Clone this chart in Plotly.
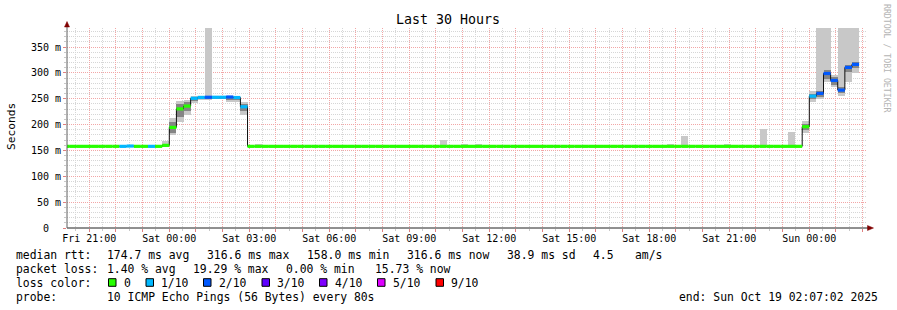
import plotly.graph_objects as go
import pandas as pd

# ---------------- data (one value per 16-minute step, starting Fri 2025-10-17 20:00) -------------
step_start = "2025-10-17 20:00:00"
step_minutes = 16

median_ms = [
    158.0, 158.0, 158.0, 158.0, 158.0, 158.0, 158.0, 158.0, 158.0, 158.6, 158.0, 158.0, 158.0, 158.0, 159.9, 194.7,
    230.5, 235.9, 251.0, 252.7, 253.0, 253.0, 253.0, 253.5, 252.5, 234.6, 158.0, 158.0, 158.0, 158.0, 158.0, 158.0,
    158.0, 158.0, 158.0, 158.0, 158.0, 158.0, 158.0, 158.0, 158.0, 158.0, 158.0, 158.0, 158.0, 158.0, 158.0, 158.0,
    158.0, 158.0, 158.0, 158.0, 158.0, 158.0, 158.0, 158.0, 158.0, 158.0, 158.0, 158.0, 158.0, 158.0, 158.0, 158.0,
    158.0, 158.0, 158.0, 158.0, 158.0, 158.0, 158.0, 158.0, 158.0, 158.0, 158.0, 158.0, 158.0, 158.0, 158.0, 158.0,
    158.0, 158.0, 158.0, 158.0, 158.0, 158.0, 158.0, 158.0, 158.0, 158.0, 158.0, 158.0, 158.0, 158.0, 158.0, 158.0,
    158.0, 158.0, 158.0, 158.0, 158.0, 158.0, 158.0, 158.0, 196.0, 255.2, 260.4, 299.0, 285.5, 266.8, 310.7, 316.6,
]

loss_tenths = [
    0, 0, 0, 0, 0, 0, 0, 0, 1, 1, 0, 0, 1, 0, 0, 0,
    0, 0, 1, 1, 2, 1, 1, 2, 1, 1, 0, 0, 0, 0, 0, 0,
    0, 0, 0, 0, 0, 0, 0, 0, 0, 0, 0, 0, 0, 0, 0, 0,
    0, 0, 0, 0, 0, 0, 0, 0, 0, 0, 0, 0, 0, 0, 0, 0,
    0, 0, 0, 0, 0, 0, 0, 0, 0, 0, 0, 0, 0, 0, 0, 0,
    0, 0, 0, 0, 0, 0, 0, 0, 0, 0, 0, 0, 0, 0, 0, 0,
    0, 0, 0, 0, 0, 0, 0, 0, 0, 1, 2, 2, 2, 2, 2, 2,
]

smoke_lo = [
    158.0, 158.0, 158.0, 158.0, 158.0, 158.0, 158.0, 158.0, 158.0, 158.0, 158.0, 158.0, 158.0, 158.0, 158.0, 180.0,
    205.6, 218.5, 241.0, 247.5, 247.5, 250.0, 250.0, 243.5, 243.5, 218.5, 158.0, 158.0, 158.0, 158.0, 158.0, 158.0,
    158.0, 158.0, 158.0, 158.0, 158.0, 158.0, 158.0, 158.0, 158.0, 158.0, 158.0, 158.0, 158.0, 158.0, 158.0, 158.0,
    158.0, 158.0, 158.0, 158.0, 158.0, 158.0, 158.0, 158.0, 158.0, 158.0, 158.0, 158.0, 158.0, 158.0, 158.0, 158.0,
    158.0, 158.0, 158.0, 158.0, 158.0, 158.0, 158.0, 158.0, 158.0, 158.0, 158.0, 158.0, 158.0, 158.0, 158.0, 158.0,
    158.0, 158.0, 158.0, 158.0, 158.0, 158.0, 158.0, 158.0, 158.0, 158.0, 158.0, 158.0, 158.0, 158.0, 158.0, 158.0,
    158.0, 158.0, 158.0, 158.0, 158.0, 158.0, 158.0, 158.0, 183.0, 244.0, 248.8, 283.0, 273.0, 255.0, 283.0, 299.0,
]

smoke_hi = [
    158.0, 158.0, 158.0, 158.0, 158.0, 158.0, 158.0, 158.0, 158.0, 158.0, 158.0, 158.0, 158.0, 158.0, 167.5, 212.0,
    245.5, 247.5, 255.0, 254.5, 390.0, 254.5, 255.0, 255.0, 254.5, 244.0, 158.0, 162.0, 158.0, 158.0, 158.0, 158.0,
    158.0, 158.0, 158.0, 158.0, 158.0, 158.0, 158.0, 158.0, 158.0, 158.0, 158.0, 158.0, 158.0, 158.0, 158.0, 158.0,
    158.0, 158.0, 158.0, 158.0, 158.0, 170.0, 158.0, 158.0, 162.4, 158.0, 162.0, 158.0, 158.0, 158.0, 158.0, 158.0,
    158.0, 158.0, 158.0, 158.0, 158.0, 158.0, 158.0, 158.0, 158.0, 158.0, 158.0, 158.0, 158.0, 158.0, 158.0, 158.0,
    158.0, 158.0, 158.0, 158.0, 158.0, 162.0, 158.0, 178.6, 158.0, 158.0, 158.0, 158.0, 158.0, 162.0, 158.0, 158.0,
    158.0, 158.0, 191.4, 158.0, 158.0, 158.0, 185.6, 158.0, 207.5, 265.5, 390.0, 390.0, 295.8, 390.0, 390.0, 390.0,
]

core_lo = [
    158.0, 158.0, 158.0, 158.0, 158.0, 158.0, 158.0, 158.0, 158.0, 158.0, 158.0, 158.0, 158.0, 158.0, 158.0, 184.0,
    214.0, 226.0, 246.0, 250.0, 250.0, 251.5, 251.5, 248.0, 247.5, 226.0, 158.0, 158.0, 158.0, 158.0, 158.0, 158.0,
    158.0, 158.0, 158.0, 158.0, 158.0, 158.0, 158.0, 158.0, 158.0, 158.0, 158.0, 158.0, 158.0, 158.0, 158.0, 158.0,
    158.0, 158.0, 158.0, 158.0, 158.0, 158.0, 158.0, 158.0, 158.0, 158.0, 158.0, 158.0, 158.0, 158.0, 158.0, 158.0,
    158.0, 158.0, 158.0, 158.0, 158.0, 158.0, 158.0, 158.0, 158.0, 158.0, 158.0, 158.0, 158.0, 158.0, 158.0, 158.0,
    158.0, 158.0, 158.0, 158.0, 158.0, 158.0, 158.0, 158.0, 158.0, 158.0, 158.0, 158.0, 158.0, 158.0, 158.0, 158.0,
    158.0, 158.0, 158.0, 158.0, 158.0, 158.0, 158.0, 158.0, 189.0, 249.0, 254.0, 289.0, 277.0, 261.0, 302.0, 309.0,
]

core_hi = [
    158.0, 158.0, 158.0, 158.0, 158.0, 158.0, 158.0, 158.0, 158.0, 158.0, 158.0, 158.0, 158.0, 158.0, 161.5, 205.0,
    240.0, 243.0, 253.0, 253.5, 254.0, 254.0, 254.0, 254.5, 253.5, 240.0, 158.0, 158.0, 158.0, 158.0, 158.0, 158.0,
    158.0, 158.0, 158.0, 158.0, 158.0, 158.0, 158.0, 158.0, 158.0, 158.0, 158.0, 158.0, 158.0, 158.0, 158.0, 158.0,
    158.0, 158.0, 158.0, 158.0, 158.0, 158.0, 158.0, 158.0, 158.0, 158.0, 158.0, 158.0, 158.0, 158.0, 158.0, 158.0,
    158.0, 158.0, 158.0, 158.0, 158.0, 158.0, 158.0, 158.0, 158.0, 158.0, 158.0, 158.0, 158.0, 158.0, 158.0, 158.0,
    158.0, 158.0, 158.0, 158.0, 158.0, 158.0, 158.0, 158.0, 158.0, 158.0, 158.0, 158.0, 158.0, 158.0, 158.0, 158.0,
    158.0, 158.0, 158.0, 158.0, 158.0, 158.0, 158.0, 158.0, 202.0, 260.0, 266.0, 306.0, 292.0, 273.0, 316.0, 321.0,
]

loss_labels = ["0", "1/10", "2/10", "3/10", "4/10", "5/10", "9/10"]
loss_colors = ["#26ff00", "#00b8ff", "#0059ff", "#5e00ff", "#7e00ff", "#dd00ff", "#ff0000"]

y_tickvals = [0, 50, 100, 150, 200, 250, 300, 350]
y_ticktext = ["0\u00a0\u00a0", "50 m", "100 m", "150 m", "200 m", "250 m", "300 m", "350 m"]

x_range = ["2025-10-17 20:09:50", "2025-10-19 02:09:50"]
hour_ticks = pd.date_range("2025-10-17 21:00", "2025-10-19 02:00", freq="1h")

stats_rows = [
    [("median rtt:", 16), ("174.7 ms avg", 107), ("316.6 ms max", 207), ("158.0 ms min", 307),
     ("316.6 ms now", 407), ("38.9 ms sd", 507), ("4.5", 592.5), ("am/s", 635)],
    [("packet loss:", 16), ("1.40 % avg", 107), ("19.29 % max", 192.5), ("0.00 % min", 286),
     ("15.73 % now", 375)],
]
legend_box_x = [108.5, 146, 203.5, 262, 319.5, 377.5, 436]
probe_text = "10 ICMP Echo Pings (56 Bytes) every 80s"
end_text = "end: Sun Oct 19 02:07:02 2025"

# ---------------- geometry helpers (pixel -> paper) ----------------
W, H = 897, 310
ML, MR, MT, MB = 67, 30, 28, 82
PW, PH = W - ML - MR, H - MT - MB


def px(x):
    return (x - ML) / PW


def py(y):
    return (H - MB - y) / PH


FONT = "DejaVu Sans Mono"

starts = pd.date_range(step_start, periods=len(median_ms), freq=f"{step_minutes}min")
ends = starts + pd.Timedelta(minutes=step_minutes)
centers = starts + pd.Timedelta(minutes=step_minutes / 2)
step_ms = step_minutes * 60 * 1000

fig = go.Figure()

# smoke (outer range, then inner core)
fig.add_trace(go.Bar(
    x=centers, base=smoke_lo, y=[h - l for h, l in zip(smoke_hi, smoke_lo)],
    width=step_ms, marker=dict(color="#c8c8c8", line=dict(width=0)), hoverinfo="skip"))
fig.add_trace(go.Bar(
    x=centers, base=core_lo, y=[h - l for h, l in zip(core_hi, core_lo)],
    width=step_ms, marker=dict(color="#858585", line=dict(width=0)), hoverinfo="skip"))

# black median step line
fig.add_trace(go.Scatter(
    x=list(starts) + [ends[-1]], y=median_ms + [median_ms[-1]],
    mode="lines", line=dict(color="#101010", width=1, shape="hv"), hoverinfo="skip"))

# coloured median segments by loss
for lvl, col in enumerate(loss_colors):
    xs, ys = [], []
    for s, e, m, l in zip(starts, ends, median_ms, loss_tenths):
        if l == lvl:
            xs += [s, e, None]
            ys += [m, m, None]
    if xs:
        fig.add_trace(go.Scatter(x=xs, y=ys, mode="lines",
                                 line=dict(color=col, width=3.2), hoverinfo="skip"))

tick_text = [t.strftime("%a %H:%M") if t.hour % 3 == 0 else "" for t in hour_ticks]

fig.update_layout(
    width=W, height=H, margin=dict(l=ML, r=MR, t=MT, b=MB),
    paper_bgcolor="white", plot_bgcolor="white",
    showlegend=False, barmode="overlay", bargap=0, hovermode=False,
    font=dict(family=FONT, size=10, color="black"),
    xaxis=dict(
        type="date", range=x_range, tickmode="array",
        tickvals=list(hour_ticks), ticktext=tick_text,
        showgrid=True, gridcolor="#f2a6a6", gridwidth=1, griddash="1px,1px",
        ticks="outside", ticklen=3, tickcolor="#e08080", ticklabelstandoff=-2,
        tickfont=dict(family=FONT, size=10, color="black"),
        showline=False, zeroline=False, fixedrange=True,
        minor=dict(tick0="2025-10-17 20:30", dtick=1800000, showgrid=True,
                   gridcolor="#d6d6d6", griddash="1px,1px", ticks="outside",
                   ticklen=2, tickcolor="#c8c8c8"),
    ),
    yaxis=dict(
        range=[0, 387], tickmode="array", tickvals=y_tickvals, ticktext=y_ticktext,
        showgrid=True, gridcolor="#f2a6a6", gridwidth=1, griddash="1px,1px",
        ticks="outside", ticklen=3, tickcolor="#e08080",
        tickfont=dict(family=FONT, size=10, color="black"),
        showline=False, zeroline=False, fixedrange=True,
        minor=dict(dtick=10, showgrid=True, gridcolor="#d6d6d6", griddash="1px,1px",
                   ticks="outside", ticklen=2, tickcolor="#c8c8c8"),
    ),
)

shapes = []
# axes with arrows
shapes.append(dict(type="line", xref="paper", yref="paper", x0=px(67), x1=px(868), y0=py(228), y1=py(228),
                   line=dict(color="#202020", width=1), layer="above"))
shapes.append(dict(type="line", xref="paper", yref="paper", x0=px(67), x1=px(67), y0=py(228), y1=py(26),
                   line=dict(color="#606060", width=1), layer="above"))
shapes.append(dict(type="path", xref="paper", yref="paper",
                   path=f"M {px(873.5)},{py(228)} L {px(867.5)},{py(225.5)} L {px(867.5)},{py(230.5)} Z",
                   fillcolor="#800000", line=dict(color="#800000", width=0.5), layer="above"))
shapes.append(dict(type="path", xref="paper", yref="paper",
                   path=f"M {px(67)},{py(21.5)} L {px(64.5)},{py(27)} L {px(69.5)},{py(27)} Z",
                   fillcolor="#800000", line=dict(color="#800000", width=0.5), layer="above"))

annotations = []


def txt(text, x, y, size=11.4, color="black", anchor="left", angle=0):
    annotations.append(dict(text=text, x=px(x), y=py(y), xref="paper", yref="paper",
                            xanchor=anchor, yanchor="middle", showarrow=False, textangle=angle,
                            font=dict(family=FONT, size=size, color=color), borderpad=0))


txt("Last 30 Hours", 448, 19, size=13.3, anchor="center")
txt("Seconds", 11, 126, size=11.2, anchor="center", angle=-90)
txt("RRDTOOL / TOBI OETIKER", 887, 59, size=8.2, color="#b4b4b4", anchor="center", angle=90)

row_y = [254.5, 268.5, 282.5, 296.5]
for r, row in enumerate(stats_rows):
    for t, x in row:
        txt(t, x - 1, row_y[r])

txt("loss color:", 15, row_y[2])
for bx, lab, col in zip(legend_box_x, loss_labels, loss_colors):
    shapes.append(dict(type="rect", xref="paper", yref="paper",
                       x0=px(bx), x1=px(bx + 7.5), y0=py(row_y[2] - 3.8), y1=py(row_y[2] + 3.8),
                       fillcolor=col, line=dict(color="black", width=1)))
    txt(lab, bx + 14, row_y[2])

txt("probe:", 15, row_y[3])
txt(probe_text, 106, row_y[3])
txt(end_text, 678, row_y[3])

fig.update_layout(shapes=shapes, annotations=annotations)
fig.write_html("out.html", config={"displayModeBar": False})
